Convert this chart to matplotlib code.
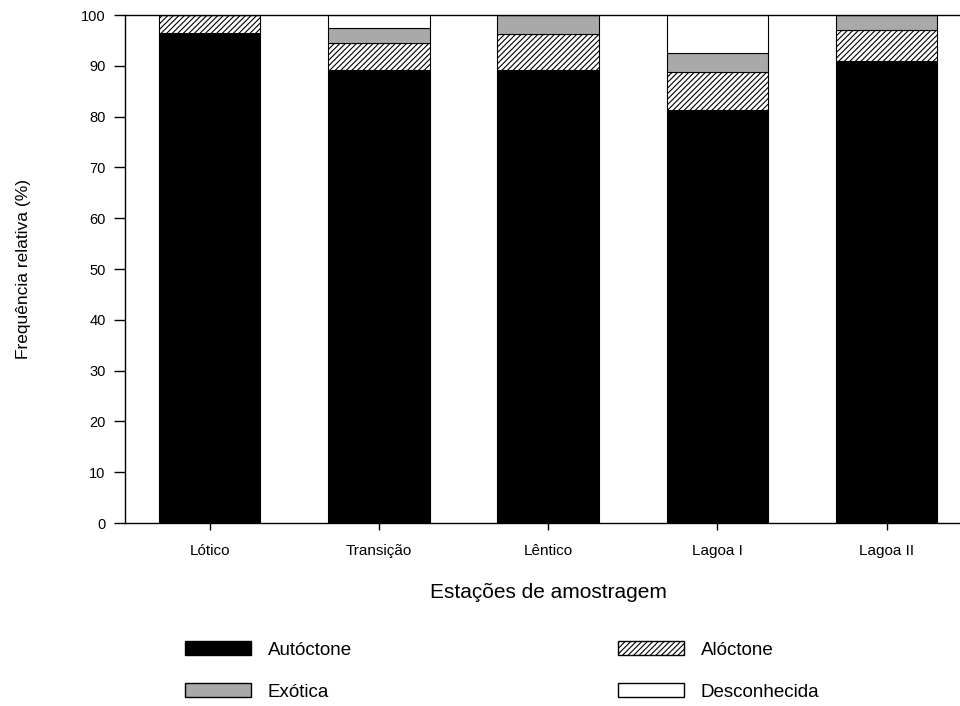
import numpy as np
import matplotlib
matplotlib.use('Agg')
import matplotlib.pyplot as plt
from matplotlib.patches import Patch

plt.rcParams['font.family'] = ['Liberation Sans', 'DejaVu Sans']
plt.rcParams['hatch.linewidth'] = 0.8

# data (percent of individuals per station)
stations = ['Lótico', 'Transição', 'Lêntico', 'Lagoa I', 'Lagoa II']
autoctone = [96.4, 89.2, 89.2, 81.4, 91.0]
aloctone = [3.6, 5.2, 7.0, 7.4, 6.0]
exotica = [0.0, 3.0, 3.8, 3.8, 3.0]
desconhecida = [0.0, 2.6, 0.0, 7.4, 0.0]

fig = plt.figure(figsize=(9.6, 7.06), dpi=100)
ax = fig.add_axes([0.1302, 0.2592, 0.8815, 0.7195])

x = np.arange(len(stations))
w = 0.6
bottom = np.zeros(len(stations))
series = [
    (autoctone, 'black', None, 'Autóctone'),
    (aloctone, 'white', '//////', 'Alóctone'),
    (exotica, '#a9a9a9', None, 'Exótica'),
    (desconhecida, 'white', None, 'Desconhecida'),
]
for vals, color, hatch, label in series:
    vals = np.array(vals)
    ax.bar(x, vals, w, bottom=bottom, color=color, hatch=hatch,
           edgecolor='black', linewidth=0.8, label=label)
    bottom += vals

ax.set_xlim(-0.5, 4.5)
ax.set_ylim(0, 100)
ax.set_yticks(np.arange(0, 101, 10))
ax.set_xticks(x)
ax.set_xticklabels(stations, fontsize=11)
ax.tick_params(axis='y', direction='out', length=8, width=1, labelsize=10.5, pad=6)
ax.tick_params(axis='x', direction='out', length=5, width=1, pad=10)
for s in ax.spines.values():
    s.set_linewidth(1)
ax.set_ylabel('Frequência relativa (%)', fontsize=12.5, labelpad=36)
ax.set_xlabel('Estações de amostragem', fontsize=15, labelpad=18)

# legend in two separate columns like the original
h1 = [Patch(facecolor='black', edgecolor='black', label='Autóctone'),
      Patch(facecolor='#a9a9a9', edgecolor='black', label='Exótica')]
h2 = [Patch(facecolor='white', edgecolor='black', hatch='//////', label='Alóctone'),
      Patch(facecolor='white', edgecolor='black', label='Desconhecida')]
leg_kw = dict(frameon=False, fontsize=13.5, handlelength=3.5, handleheight=0.8,
              handletextpad=0.9, labelspacing=1.3, borderpad=0, borderaxespad=0)
fig.legend(handles=h1, loc='upper left', bbox_to_anchor=(185 / 960, 1 - 641 / 706), **leg_kw)
fig.legend(handles=h2, loc='upper left', bbox_to_anchor=(618 / 960, 1 - 641 / 706), **leg_kw)

fig.savefig('out.png', dpi=100)
